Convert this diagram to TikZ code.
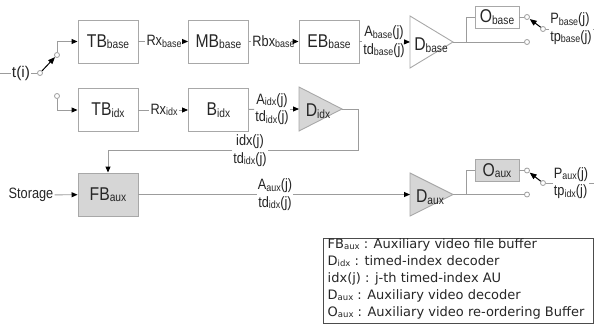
\documentclass[tikz,border=0pt]{standalone}
\usepackage{fontspec}
\setmainfont{Liberation Sans}
\newfontfamily\nar[FakeStretch=0.85]{Liberation Sans}
\newfontfamily\leg{DejaVu Sans}
\usetikzlibrary{arrows.meta}
\definecolor{lg}{HTML}{9C9C9C}
\definecolor{bg}{HTML}{A8A8A8}
\definecolor{fg}{HTML}{D6D6D6}
\definecolor{tx}{HTML}{262626}
\newcommand\Bsub[1]{\raisebox{-1.5pt}{\fontsize{12}{12}\selectfont #1}}
\newcommand\Lsub[1]{\raisebox{-1.5pt}{\fontsize{10.5}{10.5}\selectfont #1}}
\newcommand\Gsub[1]{\raisebox{-1pt}{\fontsize{8.5}{8.5}\selectfont #1}}
\begin{document}
\begin{tikzpicture}[x=1pt,y=-1pt,
 box/.style={draw=bg,line width=0.9pt,minimum width=60pt,minimum height=43pt,inner sep=0pt,font=\nar\fontsize{18.5}{20}\selectfont,text=tx},
 gbox/.style={box,fill=fg},
 ob/.style={draw=bg,line width=0.9pt,minimum width=44pt,minimum height=22pt,inner sep=0pt,font=\nar\fontsize{18.5}{20}\selectfont,text=tx},
 lbl/.style={fill=white,inner sep=1pt,font=\nar\fontsize{15}{17.5}\selectfont,text=tx,align=center},
 ln/.style={draw=lg,line width=0.9pt},
 arr/.style={ln,-{Triangle[length=6pt,width=5pt,color=black]}},
 swa/.style={draw=black,line width=1pt,-{Triangle[length=7pt,width=5.5pt]}},
 port/.style={circle,draw=lg,fill=white,line width=0.8pt,inner sep=0pt,minimum size=5pt},
 tri/.style={draw=bg,line width=0.9pt,line join=miter},
 tlab/.style={font=\nar\fontsize{18.5}{20}\selectfont,text=tx,inner sep=0pt}
]
\useasboundingbox (0,0) rectangle (594,327);

% ---------- row 1 ----------
\node[box] (TBb) at (108,41.5) {TB\Bsub{base}};
\node[box] (MBb) at (218.5,41.5) {MB\Bsub{base}};
\node[box] (EBb) at (329,41.5) {EB\Bsub{base}};
\path[tri] (410,16) -- (453,42) -- (410,68) -- cycle;
\coordinate (Dbi) at (410,42);
\coordinate (Dbo) at (453,42);
\node[tlab] (Dbl) at (431,45) {D\Bsub{base}};
\node[ob] (Ob) at (497,17) {O\Bsub{base}};
\coordinate (jb) at (466,42);
\coordinate (pbend) at (594,29);

\node[lbl] (Rxb) at (164,41.5) {Rx\Lsub{base}};
\node[lbl] (Rbxb) at (273.5,41.5) {Rbx\Lsub{base}};
\node[lbl] (Abl) at (384,41.5) {A\Lsub{base}(j)\\td\Lsub{base}(j)};

% ---------- row 2 ----------
\node[box] (TBi) at (108,110) {TB\Bsub{idx}};
\node[box] (Bi) at (218.5,110) {B\Bsub{idx}};
\path[tri,fill=fg] (299,87) -- (342,109) -- (299,131) -- cycle;
\coordinate (Dii) at (299,109);
\coordinate (Dio) at (342,109);
\node[tlab] (Dil) at (318,111) {D\Bsub{idx}};
\coordinate (fb1) at (358,109);
\node[lbl] (Rxi) at (164,110) {Rx\Lsub{idx}};
\node[lbl] (Ail) at (272,109) {A\Lsub{idx}(j)\\td\Lsub{idx}(j)};

% ---------- row 3 ----------
\node[gbox] (FBa) at (108,194.5) {FB\Bsub{aux}};
\node[lbl,fill=none] (st) at (31,195) {Storage};
\path[tri,fill=fg] (410,173) -- (453,194.5) -- (410,216) -- cycle;
\coordinate (Dai) at (410,194.5);
\coordinate (Dao) at (453,194.5);
\node[tlab] (Dal) at (430,197) {D\Bsub{aux}};
\node[ob,fill=fg] (Oa) at (497,170.5) {O\Bsub{aux}};
\coordinate (ja) at (466,194.5);
\coordinate (paend) at (594,183);
\node[lbl] (Aal) at (275,194.5) {A\Lsub{aux}(j)\\td\Lsub{idx}(j)};

% ---------- input switch ----------
\coordinate (t0) at (0,73);
\node[lbl,fill=none,font=\fontsize{15.5}{17}\selectfont] (ti) at (21,73) {t(i)};
\node[port] (c1) at (40,73) {};
\node[port] (c2) at (57,55) {};
\node[port] (c3) at (57,96) {};

% ---------- output ports ----------
\node[port] (o1) at (527,17) {};
\node[port] (o2) at (527,42) {};
\node[port] (p1) at (543,29) {};
\node[port] (a1) at (527,170.5) {};
\node[port] (a2) at (527,194.5) {};
\node[port] (p2) at (543,183) {};

% ---------- connectors ----------
\draw[ln] (t0) -- (ti);
\draw[ln] (ti) -- (c1);
\draw[swa] (c1) -- (c2);
\draw[arr] (c2) |- (TBb);
\draw[arr] (c3) |- (TBi);

\draw[ln] (TBb) -- (Rxb);
\draw[arr] (Rxb) -- (MBb);
\draw[ln] (MBb) -- (Rbxb);
\draw[arr] (Rbxb) -- (EBb);
\draw[ln] (EBb) -- (Abl);
\draw[arr] (Abl) -- (Dbi);
\draw[ln] (Dbo) -- (jb) |- (Ob);
\draw[ln] (jb) -- (o2);
\draw[ln] (Ob) -- (o1);
\draw[swa,shorten >=0.5pt] (p1) -- (o1);
\draw[ln] (p1) -- (pbend);
\node[lbl,align=left] (Pb) at (571,28.5) {P\Lsub{base}(j)\\tp\Lsub{base}(j)};

\draw[ln] (TBi) -- (Rxi);
\draw[arr] (Rxi) -- (Bi);
\draw[ln] (Bi) -- (Ail);
\draw[arr] (Ail) -- (Dii);
\node[lbl] (idxl) at (250,150.5) {idx(j)\\td\Lsub{idx}(j)};
\draw[ln] (Dio) -- (fb1) |- (idxl);
\draw[arr] (idxl) -| (FBa);

\draw[arr] (st) -- (FBa);
\draw[ln] (FBa) -- (Aal);
\draw[arr] (Aal) -- (Dai);
\draw[ln] (Dao) -- (ja) |- (Oa);
\draw[ln] (ja) -- (a2);
\draw[ln] (Oa) -- (a1);
\draw[swa,shorten >=0.5pt] (p2) -- (a1);
\draw[ln] (p2) -- (paend);
\node[lbl,align=left] (Pa) at (571,183) {P\Lsub{aux}(j)\\tp\Lsub{idx}(j)};

% ---------- legend ----------
\node[draw=black!70,line width=0.8pt,minimum width=270pt,minimum height=85pt,anchor=north west,inner sep=0pt] (legbox) at (323,238) {};
\node[anchor=north west,align=left,inner sep=0pt,font=\leg\fontsize{13}{17}\selectfont,text=tx] (legt) at (327.5,238.5) {FB\Gsub{aux} : Auxiliary video file buffer\\
D\Gsub{idx} : timed-index decoder\\
idx(j) : j-th timed-index AU\\
D\Gsub{aux} : Auxiliary video decoder\\
O\Gsub{aux} : Auxiliary video re-ordering Buffer};
\end{tikzpicture}
\end{document}
